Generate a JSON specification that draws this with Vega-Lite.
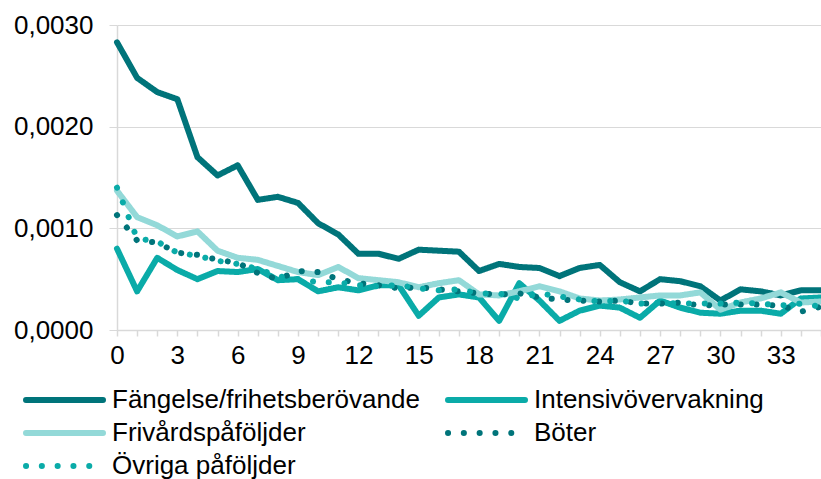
{
  "$schema": "https://vega.github.io/schema/vega-lite/v6.json",
  "width": 704,
  "height": 305,
  "autosize": {"type": "none"},
  "padding": {"left": 117, "top": 25, "right": 0, "bottom": 149},
  "background": "white",
  "config": {
    "view": {"stroke": null},
    "font": "Liberation Sans",
    "axis": {"labelFont": "Liberation Sans", "labelColor": "#000000", "labelFontSize": 26}
  },
  "datasets": {
    "wide": [
      {"t":0,"F":2.83,"I":0.80,"V":1.37,"B":1.13,"O":1.40},
      {"t":1,"F":2.48,"I":0.38,"V":1.11,"B":0.88,"O":0.90},
      {"t":2,"F":2.34,"I":0.71,"V":1.03,"B":0.86,"O":0.87},
      {"t":3,"F":2.27,"I":0.59,"V":0.92,"B":0.76,"O":0.76},
      {"t":4,"F":1.70,"I":0.50,"V":0.97,"B":0.74,"O":0.73},
      {"t":5,"F":1.52,"I":0.58,"V":0.78,"B":0.69,"O":0.68},
      {"t":6,"F":1.62,"I":0.57,"V":0.71,"B":0.66,"O":0.65},
      {"t":7,"F":1.28,"I":0.60,"V":0.69,"B":0.56,"O":0.60},
      {"t":8,"F":1.31,"I":0.49,"V":0.63,"B":0.50,"O":0.53},
      {"t":9,"F":1.25,"I":0.50,"V":0.57,"B":0.58,"O":0.50},
      {"t":10,"F":1.05,"I":0.38,"V":0.54,"B":0.57,"O":0.47},
      {"t":11,"F":0.94,"I":0.42,"V":0.62,"B":0.50,"O":0.47},
      {"t":12,"F":0.75,"I":0.39,"V":0.51,"B":0.46,"O":0.44},
      {"t":13,"F":0.75,"I":0.44,"V":0.49,"B":0.44,"O":0.43},
      {"t":14,"F":0.70,"I":0.44,"V":0.47,"B":0.41,"O":0.44},
      {"t":15,"F":0.79,"I":0.14,"V":0.42,"B":0.42,"O":0.41},
      {"t":16,"F":0.78,"I":0.32,"V":0.46,"B":0.40,"O":0.39},
      {"t":17,"F":0.77,"I":0.35,"V":0.49,"B":0.38,"O":0.40},
      {"t":18,"F":0.58,"I":0.32,"V":0.35,"B":0.36,"O":0.36},
      {"t":19,"F":0.65,"I":0.09,"V":0.34,"B":0.35,"O":0.36},
      {"t":20,"F":0.62,"I":0.46,"V":0.38,"B":0.36,"O":0.31},
      {"t":21,"F":0.61,"I":0.29,"V":0.43,"B":0.32,"O":0.36},
      {"t":22,"F":0.53,"I":0.09,"V":0.38,"B":0.30,"O":0.33},
      {"t":23,"F":0.61,"I":0.19,"V":0.31,"B":0.29,"O":0.30},
      {"t":24,"F":0.64,"I":0.24,"V":0.29,"B":0.28,"O":0.28},
      {"t":25,"F":0.47,"I":0.22,"V":0.30,"B":0.29,"O":0.29},
      {"t":26,"F":0.38,"I":0.12,"V":0.32,"B":0.26,"O":0.26},
      {"t":27,"F":0.50,"I":0.29,"V":0.34,"B":0.26,"O":0.27},
      {"t":28,"F":0.48,"I":0.22,"V":0.34,"B":0.27,"O":0.26},
      {"t":29,"F":0.43,"I":0.17,"V":0.37,"B":0.24,"O":0.26},
      {"t":30,"F":0.29,"I":0.16,"V":0.20,"B":0.25,"O":0.26},
      {"t":31,"F":0.40,"I":0.19,"V":0.27,"B":0.25,"O":0.27},
      {"t":32,"F":0.38,"I":0.19,"V":0.31,"B":0.25,"O":0.26},
      {"t":33,"F":0.34,"I":0.16,"V":0.37,"B":0.24,"O":0.24},
      {"t":34,"F":0.39,"I":0.31,"V":0.27,"B":0.18,"O":0.26},
      {"t":35,"F":0.39,"I":0.32,"V":0.28,"B":0.23,"O":0.23}
    ],
    "names": [
      {"k":"F","serie":"Fängelse/frihetsberövande","ord":0},
      {"k":"I","serie":"Intensivövervakning","ord":1},
      {"k":"V","serie":"Frivårdspåföljder","ord":2},
      {"k":"B","serie":"Böter","ord":3},
      {"k":"O","serie":"Övriga påföljder","ord":4}
    ]
  },
  "data": {"name": "wide"},
  "transform": [
    {"fold": ["F","I","V","B","O"], "as": ["k","promille"]},
    {"lookup": "k", "from": {"data": {"name": "names"}, "key": "k", "fields": ["serie","ord"]}}
  ],
  "mark": {"type": "line", "strokeCap": "round", "strokeJoin": "round"},
  "encoding": {
    "x": {
      "field": "t", "type": "quantitative",
      "scale": {"domain": [0, 35], "nice": false, "zero": false},
      "axis": {
        "title": null,
        "values": [0,1,2,3,4,5,6,7,8,9,10,11,12,13,14,15,16,17,18,19,20,21,22,23,24,25,26,27,28,29,30,31,32,33,34,35],
        "labelExpr": "datum.value % 3 === 0 ? datum.label : ''",
        "grid": false,
        "domainColor": "#d9d9d9", "domainWidth": 1.5,
        "tickColor": "#d9d9d9", "tickSize": 6, "tickWidth": 1.5,
        "labelPadding": 6, "labelOverlap": false, "labelFlush": false
      }
    },
    "y": {
      "field": "promille", "type": "quantitative",
      "scale": {"domain": [0, 3], "nice": false},
      "axis": {
        "title": null,
        "values": [0, 1, 2, 3],
        "labelExpr": "replace(format(datum.value / 1000, '.4f'), '.', ',')",
        "grid": true, "gridColor": "#d9d9d9", "gridWidth": 1,
        "domainColor": "#d9d9d9", "domainWidth": 1.5,
        "tickColor": "#d9d9d9", "tickSize": 8,
        "labelPadding": 16
      }
    },
    "color": {
      "field": "serie", "type": "nominal", "sort": {"field": "ord"},
      "scale": {
        "domain": ["Fängelse/frihetsberövande","Intensivövervakning","Frivårdspåföljder","Böter","Övriga påföljder"],
        "range": ["#00747A","#0AABA8","#93D9D8","#00747A","#0AABA8"]
      },
      "legend": {
        "title": null,
        "orient": "none", "legendX": -94, "legendY": 362,
        "direction": "horizontal",
        "columns": 2, "columnPadding": 25, "rowPadding": 7, "clipHeight": 26,
        "padding": 0,
        "symbolType": "stroke", "symbolSize": 5929, "symbolStrokeWidth": 6.5,
        "labelFont": "Liberation Sans", "labelFontSize": 26, "labelColor": "#000000",
        "labelOffset": 6, "labelLimit": 400,
        "encode": {"symbols": {"update": {"strokeCap": {"value": "round"}}}}
      }
    },
    "strokeDash": {
      "field": "serie", "type": "nominal",
      "scale": {
        "domain": ["Fängelse/frihetsberövande","Intensivövervakning","Frivårdspåföljder","Böter","Övriga påföljder"],
        "range": [[1,0],[1,0],[1,0],[0.1,15.7],[0.1,15.7]]
      },
      "legend": null
    },
    "strokeWidth": {
      "field": "serie", "type": "nominal",
      "scale": {
        "domain": ["Fängelse/frihetsberövande","Intensivövervakning","Frivårdspåföljder","Böter","Övriga påföljder"],
        "range": [6, 6, 6, 7, 7]
      },
      "legend": null
    },
    "order": {"field": "t", "type": "quantitative"}
  }
}
